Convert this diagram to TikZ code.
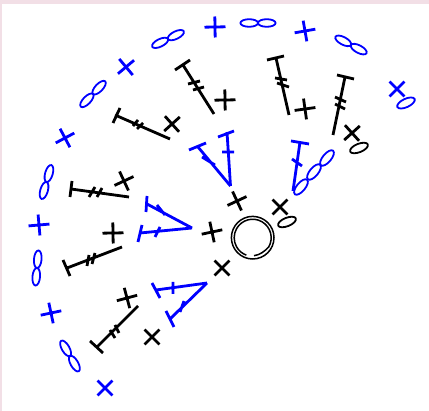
\documentclass[tikz,border=0pt]{standalone}
\usepackage{tikz}
\definecolor{chartblue}{HTML}{0000FF}
\definecolor{chartpink}{HTML}{F2DFE6}
\tikzset{
  stitch/.style={line width=2.8pt},
  chainline/.style={line width=1.8pt},
  pics/sc/.style={code={\draw[stitch] (-10.5,0) -- (10.5,0) (0,-10.5) -- (0,10.5);}},
  pics/ch/.style={code={\draw[chainline] (0,0) ellipse (9.5 and 4.2);}},
  pics/chpair/.style={code={
    \draw[chainline] (-8.8,0) ellipse (8.8 and 3.8);
    \draw[chainline] (8.8,0) ellipse (8.8 and 3.8);}}
}
\begin{document}
\begin{tikzpicture}[x=1pt,y=-1pt]
    \useasboundingbox (0,0) rectangle (429,411);
    \fill[chartpink] (0,0) rectangle (429,411);
    \fill[white] (2,4) rectangle (429,411);
    % ring
    \draw[line width=1.5pt] (252.7,237.7) circle (21.3);
    \draw[line width=1.5pt] (254,255.7) .. controls (260,255) and (265,251) .. (268.7,247) arc[start angle=30,end angle=-250,radius=18.5];
    % black single stitches
    \foreach \x/\y/\r in {225/100/1,305/109/8,352/133/42,172/124/42,124/181/25,113/233/1,127/298/15,152/337/45,222/268/45,212/232/12,237/201/25,280/207/45}
      \pic[black,rotate=\r] at (\x,\y) {sc};
    \foreach \x/\y/\r in {287/222/22,359/148/22}
      \pic[black,rotate=\r] at (\x,\y) {ch};
    % black tall stitches
    \draw[stitch] (214,114) -- (183,65) (175,70) -- (190,60) (188,84) -- (200,81) (193,90) -- (204,87);
    \draw[stitch] (170,139) -- (115,115) (120,108) -- (113,123) (133,126) -- (138,120) (137,129) -- (143,123);
    \draw[stitch] (129,197) -- (71,189) (72,181) -- (70,197) (89,197) -- (95,187) (97,197) -- (102,188);
    \draw[stitch] (122,247) -- (67,268) (63,260) -- (70,276) (87,266) -- (89,255) (92,264) -- (95,253);
    \draw[stitch] (138,306) -- (97,347) (90,341) -- (103,353) (110,330) -- (115,338) (115,325) -- (119,333);
    \draw[stitch] (289,115) -- (276,58) (267,60) -- (284,56) (275,78) -- (287,80) (277,83) -- (289,87);
    \draw[stitch] (333,135) -- (345,77) (337,75) -- (354,79) (335,97) -- (346,102) (335,104) -- (345,109);
    % blue outer round
    \foreach \x/\y/\r in {105/388/45,51/313/12,39/225/5,65/138/28,126/67/40,215/27/1,305/31/10,397/89/45}
      \pic[chartblue,rotate=\r] at (\x,\y) {sc};
    \foreach \x/\y/\r in {168/39/26,93/94/46,46.5/182/74,37/268/85,70/356/-60,258/23/0,351/45/-28}
      \pic[chartblue,rotate=\r] at (\x,\y) {chpair};
    \pic[chartblue,rotate=25] at (406,103) {ch};
    % blue fans
    \begin{scope}[chartblue]
      \draw[stitch] (230.5,186) -- (227,132) (218,137) -- (234,131) (222,152) -- (234,152);
      \draw[stitch] (230.5,186) -- (198,147) (189,150) -- (206,143) (202,157) -- (215,165);
      \draw[stitch] (192,228) -- (147,204) (147,196) -- (146,212) (157,205) -- (165,215);
      \draw[stitch] (192,228) -- (140,233) (142,225) -- (138,242) (160,227) -- (155,237);
      \draw[stitch] (207,283) -- (156,290) (152,283) -- (160,298) (173,282) -- (173,294);
      \draw[stitch] (207,283) -- (170,319) (166,311) -- (174,327) (184,301) -- (180,312);
      \draw[stitch] (293,191) -- (300,142) (291,141) -- (309,144) (292,159) -- (302,166);
      \foreach \x/\y in {301/187,314/172,327/158}
        \pic[rotate=50] at (\x,\y) {ch};
    \end{scope}
  \end{tikzpicture}
\end{document}
